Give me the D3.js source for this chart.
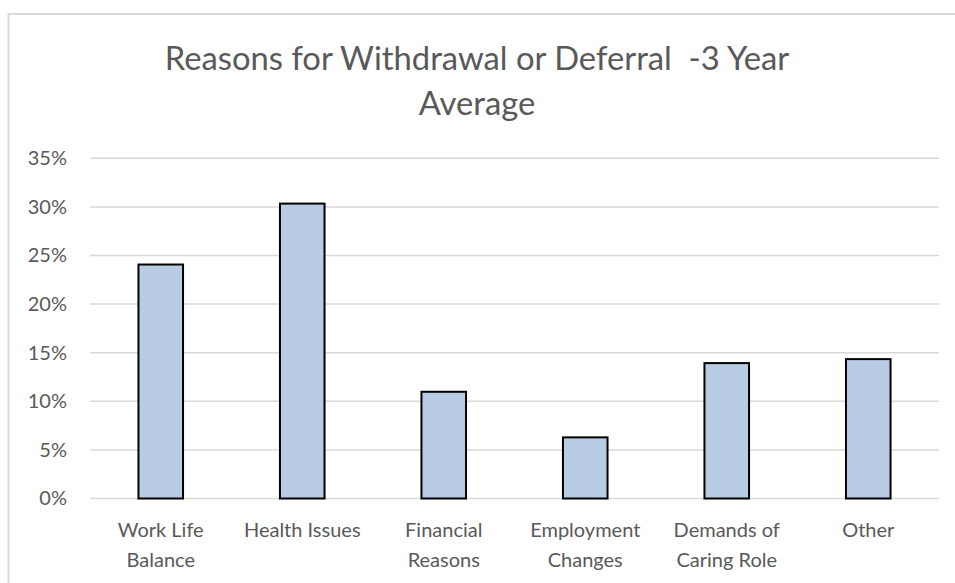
<!DOCTYPE html>
<html>
<head>
<meta charset="utf-8">
<script src="https://cdn.jsdelivr.net/npm/d3@7"></script>
<style>
  html, body { margin: 0; padding: 0; background: #fff; }
  svg { display: block; }
  text { font-family: Lato, "Open Sans", sans-serif; fill: #595959; }
</style>
</head>
<body>
<script>
const categories = ["Work Life Balance", "Health Issues", "Financial Reasons", "Employment Changes", "Demands of Caring Role", "Other"];
const labelLines = [["Work Life", "Balance"], ["Health Issues"], ["Financial", "Reasons"], ["Employment", "Changes"], ["Demands of", "Caring Role"], ["Other"]];
const values = [0.2407, 0.3034, 0.1098, 0.0629, 0.1393, 0.1434];
const tickValues = [0, 0.05, 0.10, 0.15, 0.20, 0.25, 0.30, 0.35];
const titleLines = ["Reasons for Withdrawal or Deferral  -3 Year", "Average"];

const W = 955, H = 583;
const plot = { left: 90, right: 939, top: 158.3, bottom: 498.5 };

const svg = d3.select("body").append("svg").attr("width", W).attr("height", H);

// chart border
svg.append("rect")
  .attr("x", 8.5).attr("y", 14)
  .attr("width", W + 20).attr("height", H + 20)
  .attr("fill", "#fff").attr("stroke", "#d9d9d9").attr("stroke-width", 2);

const x = d3.scaleBand().domain(categories)
  .range([plot.left, plot.right]).paddingInner(0.685).paddingOuter(0.3425);
const y = d3.scaleLinear().domain([0, 0.35]).range([plot.bottom, plot.top]);

// gridlines
svg.append("g").selectAll("line").data(tickValues).join("line")
  .attr("x1", plot.left).attr("x2", plot.right)
  .attr("y1", d => y(d)).attr("y2", d => y(d))
  .attr("stroke", "#d9d9d9").attr("stroke-width", 1.5);

// y axis labels
const yAxis = d3.axisLeft(y).tickValues(tickValues).tickFormat(d3.format(".0%")).tickSize(0).tickPadding(0);
const yg = svg.append("g").attr("transform", "translate(67,0)").call(yAxis);
yg.select(".domain").remove();
yg.selectAll("text").attr("font-size", 20).attr("fill", "#595959")
  .style("font-family", "Lato, 'Open Sans', sans-serif");

// bars
svg.append("g").selectAll("rect").data(values).join("rect")
  .attr("x", (d, i) => x(categories[i]))
  .attr("width", x.bandwidth())
  .attr("y", d => y(d))
  .attr("height", d => y(0) - y(d))
  .attr("fill", "#b8cce4").attr("stroke", "#000").attr("stroke-width", 2);

// category labels
const xg = svg.append("g");
categories.forEach((c, i) => {
  const t = xg.append("text")
    .attr("x", x(c) + x.bandwidth() / 2)
    .attr("y", 537)
    .attr("text-anchor", "middle")
    .attr("font-size", 20);
  labelLines[i].forEach((ln, j) => {
    t.append("tspan").attr("x", x(c) + x.bandwidth() / 2).attr("dy", j === 0 ? 0 : 30).text(ln);
  });
});

// title
const title = svg.append("text").attr("text-anchor", "middle").style("white-space", "pre");
const tl1 = title.append("tspan").attr("x", 477).attr("y", 70).text(titleLines[0]);
const tl2 = title.append("tspan").attr("x", 477).attr("y", 115).text(titleLines[1]);
title.attr("font-size", 30);
const w = tl1.node().getComputedTextLength();
title.attr("font-size", 30 * 625 / w);
</script>
</body>
</html>
